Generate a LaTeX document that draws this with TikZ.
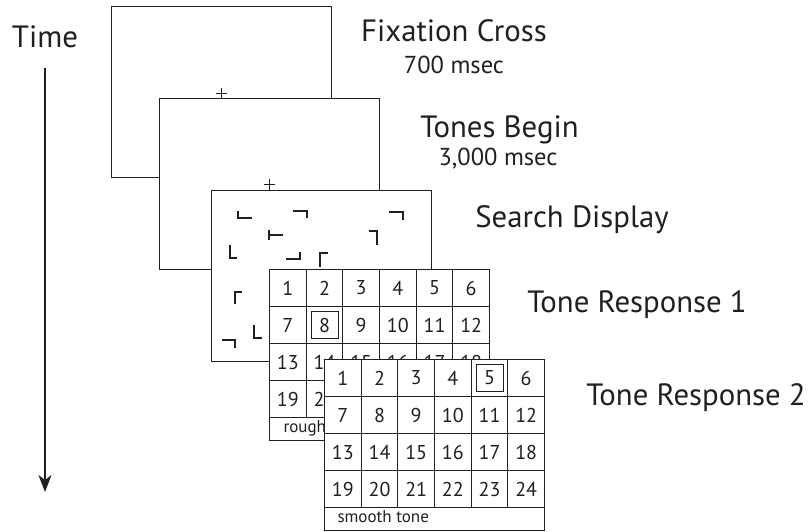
\documentclass[tikz,border=0pt]{standalone}
\usepackage{fontspec}
\setmainfont{PT Sans}
\usepackage{xcolor}
\usepackage{tikz}
\usetikzlibrary{arrows.meta, positioning, calc}
\definecolor{ink}{RGB}{35,31,32}

\begin{document}
\begin{tikzpicture}[x=1pt, y=-1pt, color=ink, line width=1pt,
    screen/.style={draw=ink, fill=white, line width=1pt, inner sep=0pt,
      anchor=north west, minimum width=220pt, minimum height=171pt},
    cell/.style={draw=ink, fill=white, line width=1pt, inner sep=0pt,
      anchor=north west, minimum width=36.667pt, minimum height=37pt,
      font=\fontsize{20}{22}\selectfont},
    pick/.style={draw=ink, line width=1pt, minimum size=27pt, inner sep=0pt},
    tonetext/.style={anchor=base west, inner sep=0pt, font=\fontsize{17}{19}\selectfont},
    steplabel/.style={anchor=base, inner sep=0pt, font=\fontsize{30.8}{34}\selectfont},
    sublabel/.style={anchor=base, inner sep=0pt, font=\fontsize{24.5}{27}\selectfont},
    glyph/.style={line width=1.4pt}]
  \useasboundingbox (0,0) rectangle (809,531);

  % Time axis
  \node[steplabel] (time) at (45,47) {Time};
  \coordinate (timeend) at (45,492);
  \draw[line width=1.5pt, -{Stealth[length=17pt, width=13pt, inset=5pt]}]
    (time.south) ++(0,20) -- (timeend);

  % Fixation screen
  \node[screen] (s1) at (111,6) {};
  \draw (s1.center) ++(-5.5,1) -- ++(11,0) (s1.center) ++(0,-4.5) -- ++(0,11);

  % Tones screen
  \node[screen] (s2) at (159,98) {};
  \draw (s2.center) ++(-5.5,0) -- ++(11,0) (s2.center) ++(0,-5.5) -- ++(0,11);

  % Search display with L and T items
  \node[screen] (s3) at (211,190) {};
  \foreach \ax/\ay/\bx/\by/\cx/\cy in
    {238/211/238/218/252/218, 293/211/307/211/307/218,
     230/245/230/258/237/258, 286/259/300/259/300/252,
     320/267/320/253/328/253, 389/212/403/212/403/220,
     369/231/377/231/377/245, 235/304/235/292/242/292,
     254/325/254/338/262/338, 222/340/235/340/235/348} {
    \draw[glyph] (\ax,\ay) -- (\bx,\by) -- (\cx,\cy);
  }
  \draw[glyph] (269,230) -- (269,240) (269,235) -- (283,235);

  % Tone response 1
  \node[screen] (g1) at (269,269) {};
  \foreach \n in {1,...,24} {
    \pgfmathsetmacro\gx{269+mod(\n-1,6)*36.667}
    \pgfmathsetmacro\gy{269+int((\n-1)/6)*37}
    \node[cell] (ga-\n) at (\gx,\gy) {\n};
  }
  \node[pick] (ga-pick) at (ga-8) {};
  \begin{scope}
    \clip (269,417) rectangle (324,440);
    \node[tonetext] (ga-tone) at (283,432) {rough tone};
  \end{scope}

  % Tone response 2
  \node[screen] (g2) at (324,359) {};
  \foreach \n in {1,...,24} {
    \pgfmathsetmacro\gx{324+mod(\n-1,6)*36.667}
    \pgfmathsetmacro\gy{359+int((\n-1)/6)*37}
    \node[cell] (gb-\n) at (\gx,\gy) {\n};
  }
  \node[pick] (gb-pick) at (gb-5) {};
  \node[tonetext] (gb-tone) at (337,522) {smooth tone};

  % Step labels
  \node[steplabel] (fix) at (454,41) {Fixation Cross};
  \node[sublabel] (fixtime) at (454,73) {700 msec};
  \node[steplabel] (tones) at (499.5,137) {Tones Begin};
  \node[sublabel] (tonestime) at (498,165) {3,000 msec};
  \node[steplabel] (search) at (572,227) {Search Display};
  \node[steplabel] (resp1) at (637,312) {Tone Response 1};
  \node[steplabel] (resp2) at (696,405) {Tone Response 2};
\end{tikzpicture}
\end{document}
